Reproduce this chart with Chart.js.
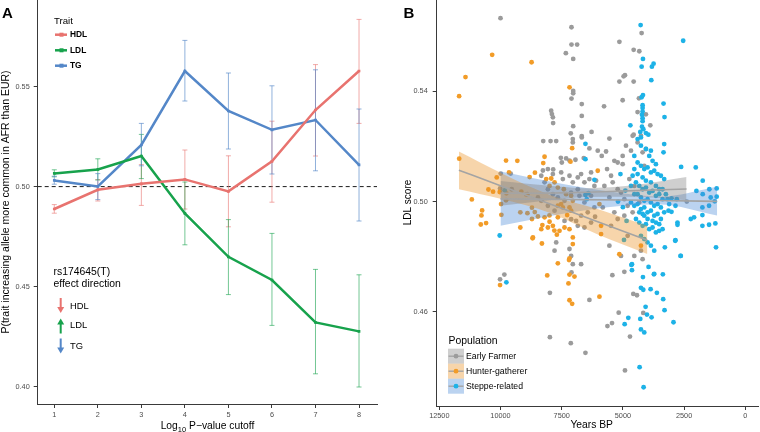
<!DOCTYPE html>
<html><head><meta charset="utf-8">
<script src="https://cdn.jsdelivr.net/npm/chart.js@4.4.1/dist/chart.umd.min.js"></script>
<style>
body{margin:0;background:#fff}
#wrap{position:relative;width:760px;height:432px;background:#fff}
canvas{position:absolute;top:0}
</style></head>
<body><div id="wrap">
<canvas id="chartA" width="380" height="432" style="left:0"></canvas>
<canvas id="chartB" width="380" height="432" style="left:380px"></canvas>
</div>
<script>
// ---------- Panel A data ----------
const cutoffs = [1, 2, 3, 4, 5, 6, 7, 8];
const hdlProp = [0.4888, 0.4984, 0.5014, 0.5036, 0.4976, 0.5126, 0.5383, 0.5578];
const hdlLow  = [0.4867, 0.4928, 0.4906, 0.4888, 0.4799, 0.4922, 0.5153, 0.5316];
const hdlHigh = [0.4910, 0.5035, 0.5110, 0.5183, 0.5154, 0.5327, 0.5610, 0.5836];
const ldlProp = [0.5066, 0.5086, 0.5153, 0.4866, 0.4649, 0.4533, 0.4321, 0.4276];
const ldlLow  = [0.5049, 0.5033, 0.5040, 0.4709, 0.4460, 0.4306, 0.4064, 0.3998];
const ldlHigh = [0.5084, 0.5139, 0.5261, 0.5023, 0.4835, 0.4766, 0.4586, 0.4559];
const tgProp  = [0.5031, 0.5001, 0.5208, 0.5578, 0.5378, 0.5284, 0.5333, 0.5109];
const tgLow   = [0.5012, 0.4935, 0.5104, 0.5428, 0.5188, 0.5063, 0.5079, 0.4828];
const tgHigh  = [0.5052, 0.5065, 0.5316, 0.5731, 0.5568, 0.5504, 0.5584, 0.5388];
const traitNames = ['HDL', 'LDL', 'TG'];
const rsDirections = ['down', 'up', 'down'];
const yTicksA = [0.40, 0.45, 0.50, 0.55];
const nullProp = 0.5;

// ---------- Panel B data: [years BP, LDL score] ----------
const earlyFarmer = [
[10000,.5666],[7100,.5633],[7100,.5570],[6870,.5570],[7330,.5539],[7030,.5518],[7030,.5402],[7030,.5393],[7100,.5374],[6680,.5354],[6680,.5311],[7930,.5330],[7900,.5318],[7860,.5306],[7850,.5285],[7030,.5274],[7130,.5248],[6280,.5253],[6680,.5238],
[4235,.5612],[5143,.5580],[4560,.5551],[4330,.5546],[4915,.5459],[4970,.5455],[5143,.5436],[4560,.5436],[4345,.5375],[5010,.5368],[5770,.5346],[4400,.5325],[4060,.5317],[3880,.5277],[4560,.5243],
[8254,.5220],[7955,.5220],[7725,.5220],[7046,.5227],[7046,.5215],[6680,.5233],[6368,.5193],[7535,.5159],[7318,.5157],[7494,.5142],[7182,.5149],[6938,.5152],[6598,.5158],[8064,.5118],[8267,.5113],[7847,.5117],[9584,.5102],[9991,.5102],[10018,.5048],[9543,.5045],[8905,.5027],[8200,.5070],[8064,.5045],[7860,.5027],[7657,.5015],[7385,.5003],[7114,.5033],[6843,.5045],[6775,.5021],[6571,.4997],[6300,.5021],[6164,.4979],[6436,.4961],[6707,.4949],[6910,.4930],[6843,.4912],[6571,.4906],[6300,.4924],[6137,.4945],[7114,.4936],[7385,.4930],[7792,.4967],[8064,.4985],[8335,.5003],[8471,.5015],[7725,.4852],[7792,.4822],[7046,.4773],[6707,.4773],[7114,.4803],[7182,.4828],[6571,.5070],[6368,.5082],[6843,.5088],[7182,.5094],[7521,.5106],[7860,.5100],[8335,.5094],[7453,.5082],[7046,.5070],[6707,.5100],[6300,.5106],[6164,.5057],[6096,.5076],
[6027,.5185],[5688,.5182],[5552,.5229],[4602,.5239],[4263,.5239],[5349,.5148],[5213,.5142],[5009,.5166],[5009,.5136],[5647,.5118],[5484,.5094],[5756,.5057],[5416,.5070],[5213,.5045],[5552,.5015],[5077,.5033],[4941,.5009],[4806,.4985],[5349,.4961],[5213,.4937],[4941,.4949],[5552,.4840],[5077,.4803],[4534,.4803],[4195,.4791],[4263,.4822],[4806,.4876],[2390,.5000],[5864,.5166],[4874,.5203],[4670,.5185],[4399,.5215],[4195,.5179],[4059,.5191],[4127,.5130],[4738,.5082],[4534,.5057],[4331,.4997],[4602,.4961],[5823,.4979],[5484,.4912],
[10018,.4718],[9842,.4735],[7100,.4743],[7982,.4669],[6368,.4643],[7982,.4508],[7128,.4486],[6530,.4451],[4915,.4387],[5632,.4548],[5444,.4559],[4711,.4510],[5171,.4597],[5430,.4733],[4941,.4745],[4575,.4665],[4426,.4660],[4168,.4596]
];
const hunterGatherer = [
[10340,.5533],[8730,.5506],[11430,.5452],[11690,.5383],[7180,.5415],
[11687,.5156],[9774,.5149],[9312,.5148],[8200,.5163],[8254,.5140],[7073,.5194],[7141,.5145],[8593,.5105],[8810,.5089],[9652,.5106],[10154,.5088],[10493,.5044],[10303,.5036],[10032,.5035],[9760,.5030],[11171,.5008],[9977,.4991],[9774,.5005],[9150,.5036],[8946,.5026],[10751,.4968],[10778,.4950],[10805,.4917],[10588,.4922],[9964,.4952],[9190,.4961],[9190,.4906],[8715,.4978],[8715,.4937],[8471,.4946],[8132,.5082],[7928,.5084],[7792,.5070],[7996,.5057],[7657,.5051],[7413,.5045],[7318,.5027],[7114,.5021],[7046,.5003],[7521,.4991],[7657,.4985],[7453,.4979],[7182,.4979],[7114,.4967],[7277,.4951],[7657,.4943],[8200,.4943],[7996,.4927],[7860,.4912],[7589,.4894],[7385,.4906],[7182,.4900],[7046,.4870],[7046,.4846],[7698,.4880],[8308,.4848],[8674,.4870],[8335,.4900],[8064,.4906],[7657,.4776],[7182,.4794],
[8900,.4958],[8600,.4962],[8000,.4950],[8290,.4915],[7800,.4895],[8690,.4867],[7200,.4788],
[6027,.5112],[5959,.4991],[5891,.4912],[5891,.4882],[5145,.4809],[4263,.4840],
[10018,.4697],[8091,.4732],[7182,.4735],[6978,.4728],[7223,.4703],[7182,.4642],[7073,.4629],[5958,.4655]
];
const steppeRelated = [
[4276,.5641],[2537,.5584],[4180,.5518],[4235,.5490],[3746,.5501],[3815,.5490],[3840,.5441],[4180,.5387],[4235,.5379],[3340,.5356],[4195,.5350],[4195,.5340],[4195,.5327],[4220,.5315],[4195,.5303],[3300,.5307],[4195,.5292],[4695,.5277],[4220,.5272],[4165,.5263],[4290,.5253],[4060,.5249],[3960,.5243],
[6530,.5210],[6530,.5154],[9828,.5041],[10032,.4877],[6530,.5024],[6476,.5009],[6164,.5079],[6408,.5031],
[3313,.5209],[3340,.5179],[2621,.5126],[2024,.5124],[1739,.5076],[1997,.5039],[1468,.5045],[1169,.5048],[1739,.5027],[1413,.5015],[1169,.5018],[1250,.5001],[1481,.4985],[1752,.4979],[1752,.4951],[2092,.4943],[2227,.4937],[2770,.4924],[2770,.4916],[2797,.5009],[3015,.5012],[3110,.4991],[2852,.4985],[3015,.4963],[3137,.4967],[1752,.4912],[1481,.4916],[1223,.4921],[2852,.4860],[3286,.4834],[2635,.4803],[1196,.4834],[3951,.4763],[4629,.4773],[4629,.4751],
[4534,.5166],[4399,.5142],[4263,.5130],[4127,.5118],[3992,.5124],[3856,.5106],[3720,.5112],[3584,.5100],[3449,.5094],[3313,.5082],[4602,.5094],[4466,.5070],[4331,.5057],[4195,.5045],[4059,.5051],[3924,.5033],[3788,.5039],[3652,.5021],[3517,.5027],[3381,.5009],[4670,.4997],[4534,.4985],[4399,.4991],[4263,.4973],[4127,.4979],[3992,.4961],[3856,.4967],[3720,.4949],[3584,.4955],[3449,.4937],[4466,.4937],[4331,.4924],[4195,.4912],[4059,.4918],[3924,.4900],[3788,.4906],[3652,.4888],[3517,.4894],[4263,.4876],[4127,.4864],[3992,.4852],[3856,.4840],[3720,.4822],[4534,.5118],[4399,.5100],[4195,.5088],[4059,.5076],[3856,.5070],[3652,.5057],[3517,.5045],[3381,.5045],[3245,.5027],[3177,.5009],[4399,.5027],[4263,.5015],[4127,.5003],[3992,.5009],[3856,.4997],[3720,.4985],[3584,.4991],[3449,.4979],[3313,.4961],[4127,.4949],[3992,.4937],[3788,.4930],[3652,.4924],[3517,.4918],[3381,.4900],[4331,.4961],[4195,.4955],[4534,.5027],[4670,.5057],[4059,.5191],[3924,.5166],[3788,.5148],[3652,.5136],[3856,.5185],[4263,.5203],[4399,.5227],[4263,.5233],
[5100,.5100],[4900,.5040],[5000,.4980],[4850,.4930],[5200,.5000],
[9760,.4707],[4181,.4726],[3720,.4738],[4263,.4687],[4168,.4680],[3612,.4669],[3354,.4646],[4073,.4618],[4019,.4590],[3829,.4580],[3299,.4606],[4779,.4578],[4290,.4574],[4928,.4555],[2933,.4562],[4263,.4536],[4127,.4525],[4317,.4399],[4154,.4326],
[4955,.4861],[4654,.4770],[2863,.4858],[2646,.4803],[3367,.4736],[3734,.4736],[3868,.4682]
];
const populations = ['Early Farmer', 'Hunter-gatherer', 'Steppe-related'];
// regression fits: years, fitted score, lower and upper 95% band
const efFitYears = [2400, 4500, 6500, 8000, 10000];
const efFitLine  = [0.5046, 0.5040, 0.5034, 0.5031, 0.5030];
const efFitLow   = [0.5005, 0.5018, 0.5017, 0.5005, 0.4985];
const efFitHigh  = [0.5089, 0.5060, 0.5049, 0.5058, 0.5075];
const hgFitYears = [4000, 6000, 8000, 10000, 11700];
const hgFitLine  = [0.4860, 0.4926, 0.4992, 0.5058, 0.5114];
const hgFitLow   = [0.4810, 0.4880, 0.4960, 0.5010, 0.5045];
const hgFitHigh  = [0.4912, 0.4972, 0.5025, 0.5105, 0.5182];
const stFitYears = [1150, 3500, 5000, 7500, 10000];
const stFitLine  = [0.5001, 0.5004, 0.5006, 0.5008, 0.5010];
const stFitLow   = [0.4950, 0.4990, 0.4985, 0.4955, 0.4912];
const stFitHigh  = [0.5054, 0.5018, 0.5030, 0.5065, 0.5109];
const yearTicks = [12500, 10000, 7500, 5000, 2500, 0];
const scoreTicks = [0.46, 0.50, 0.54];

// ---------- styles ----------
const FONT = '"Liberation Sans", Arial, Helvetica, sans-serif';
const traitColors = ['#E8736F', '#17A24C', '#5487C8'];
const traitBarColors = ['rgba(232,115,111,0.6)', 'rgba(23,162,76,0.6)', 'rgba(84,135,200,0.65)'];
const popColors = ['#9B9B9B', '#F29C28', '#1DB2E7'];
const popFills = ['rgba(128,128,128,0.38)', 'rgba(235,145,35,0.38)', 'rgba(75,140,215,0.38)'];
const fitLineColor = '#A4A4A4';
const axisColor = '#3a3a3a';
const tickColor = '#4d4d4d';

Chart.defaults.font.family = FONT;
Chart.defaults.animation = false;

function axisCommon() {
  return {
    grid: {display: true, drawOnChartArea: false, drawTicks: true, tickLength: 4, color: axisColor, lineWidth: 1},
    border: {display: true, color: axisColor, width: 1},
    ticks: {font: {size: 7.3, family: FONT}, color: tickColor, padding: 3, autoSkip: false, maxRotation: 0}
  };
}
function noPad(sc) { sc.paddingTop = 0; sc.paddingBottom = 0; sc.paddingLeft = 0; sc.paddingRight = 0; }

// ---------- Chart A ----------
const seriesA = [
  {name: traitNames[0], p: hdlProp, lo: hdlLow, hi: hdlHigh},
  {name: traitNames[1], p: ldlProp, lo: ldlLow, hi: ldlHigh},
  {name: traitNames[2], p: tgProp, lo: tgLow, hi: tgHigh}
];

function drawArrow(ctx, x, yTop, yBot, dir, color) {
  ctx.save();
  ctx.strokeStyle = color; ctx.fillStyle = color; ctx.lineWidth = 2;
  const head = 6;
  ctx.beginPath();
  if (dir === 'down') {
    ctx.moveTo(x, yTop); ctx.lineTo(x, yBot - head + 1); ctx.stroke();
    ctx.beginPath(); ctx.moveTo(x - 3.5, yBot - head); ctx.lineTo(x + 3.5, yBot - head); ctx.lineTo(x, yBot); ctx.closePath(); ctx.fill();
  } else {
    ctx.moveTo(x, yBot); ctx.lineTo(x, yTop + head - 1); ctx.stroke();
    ctx.beginPath(); ctx.moveTo(x - 3.5, yTop + head); ctx.lineTo(x + 3.5, yTop + head); ctx.lineTo(x, yTop); ctx.closePath(); ctx.fill();
  }
  ctx.restore();
}

const pluginA = {
  id: 'panelA',
  beforeDatasetsDraw(chart) {
    const {ctx, chartArea: a, scales: {x, y}} = chart;
    ctx.save();
    ctx.strokeStyle = '#000'; ctx.lineWidth = 0.9; ctx.setLineDash([4, 3]);
    const py = y.getPixelForValue(nullProp);
    ctx.beginPath(); ctx.moveTo(a.left, py); ctx.lineTo(a.right, py); ctx.stroke();
    ctx.restore();
    seriesA.forEach((s, k) => {
      ctx.save();
      ctx.strokeStyle = traitBarColors[k]; ctx.lineWidth = 1;
      cutoffs.forEach((c, i) => {
        const px = x.getPixelForValue(c);
        const p1 = y.getPixelForValue(s.lo[i]), p2 = y.getPixelForValue(s.hi[i]);
        ctx.beginPath();
        ctx.moveTo(px, p1); ctx.lineTo(px, p2);
        ctx.moveTo(px - 2.5, p1); ctx.lineTo(px + 2.5, p1);
        ctx.moveTo(px - 2.5, p2); ctx.lineTo(px + 2.5, p2);
        ctx.stroke();
      });
      ctx.restore();
    });
  },
  afterDraw(chart) {
    const ctx = chart.ctx;
    ctx.save();
    ctx.fillStyle = '#000';
    ctx.font = 'bold 15px ' + FONT; ctx.textBaseline = 'alphabetic'; ctx.textAlign = 'left';
    ctx.fillText('A', 2, 18);
    ctx.save();
    ctx.translate(6, 202); ctx.rotate(-Math.PI / 2);
    ctx.font = '10.5px ' + FONT; ctx.textAlign = 'center'; ctx.textBaseline = 'middle';
    ctx.fillText('P(trait increasing allele more common in AFR than EUR)', 0, 0);
    ctx.restore();
    const f1 = '10.3px ' + FONT, f2 = '7.5px ' + FONT;
    ctx.font = f1; const wLog = ctx.measureText('Log').width; const wRest = ctx.measureText(' P\u2212value cutoff').width;
    ctx.font = f2; const wSub = ctx.measureText('10').width;
    let sx = 207.5 - (wLog + wSub + wRest) / 2;
    ctx.textBaseline = 'alphabetic';
    ctx.font = f1; ctx.fillText('Log', sx, 429);
    ctx.font = f2; ctx.fillText('10', sx + wLog, 431.5);
    ctx.font = f1; ctx.fillText(' P\u2212value cutoff', sx + wLog + wSub, 429);
    ctx.font = '9.6px ' + FONT; ctx.textBaseline = 'middle';
    ctx.fillText('Trait', 54, 21);
    const keyY = [34.7, 50.3, 65.7];
    traitNames.forEach((n, k) => {
      ctx.strokeStyle = traitColors[k]; ctx.lineWidth = 2.5;
      ctx.beginPath(); ctx.moveTo(55, keyY[k]); ctx.lineTo(67, keyY[k]); ctx.stroke();
      ctx.fillStyle = traitColors[k]; ctx.fillRect(59.5, keyY[k] - 2, 4, 4);
      ctx.fillStyle = '#000'; ctx.font = 'bold 8.4px ' + FONT;
      ctx.fillText(n, 70, keyY[k]);
    });
    ctx.font = '10.4px ' + FONT; ctx.fillStyle = '#000';
    ctx.fillText('rs174645(T)', 53.5, 271.7);
    ctx.fillText('effect direction', 53.5, 284);
    const arrowTop = [298, 318.5, 338.5];
    const labelY = [306.5, 325.8, 346];
    traitNames.forEach((n, k) => {
      drawArrow(ctx, 60.7, arrowTop[k], arrowTop[k] + 15, rsDirections[k], traitColors[k]);
      ctx.fillStyle = '#000'; ctx.font = '9.4px ' + FONT;
      ctx.fillText(n, 70, labelY[k]);
    });
    ctx.restore();
  }
};

const axA_x = axisCommon();
const axA_y = axisCommon();
new Chart(document.getElementById('chartA'), {
  type: 'line',
  data: {
    datasets: seriesA.map((s, k) => ({
      label: s.name,
      data: cutoffs.map((c, i) => ({x: c, y: s.p[i]})),
      borderColor: traitColors[k], backgroundColor: traitColors[k],
      borderWidth: 2.5, pointRadius: 1.9, pointStyle: 'rect', pointBorderWidth: 0,
      pointBackgroundColor: traitColors[k], tension: 0, fill: false
    }))
  },
  options: {
    responsive: false, animation: false, events: [],
    layout: {autoPadding: false, padding: {top: 0, right: 3, bottom: 0, left: 0}},
    plugins: {legend: {display: false}, tooltip: {enabled: false}},
    scales: {
      x: Object.assign(axA_x, {
        type: 'linear', min: 0.619, max: 8.413,
        afterBuildTicks: sc => { sc.ticks = cutoffs.map(v => ({value: v})); },
        afterFit: sc => { sc.height = 28; noPad(sc); },
        ticks: Object.assign(axA_x.ticks, {callback: v => String(v)})
      }),
      y: Object.assign(axA_y, {
        min: 0.3913, max: 0.5933,
        afterBuildTicks: sc => { sc.ticks = yTicksA.map(v => ({value: v})); },
        afterFit: sc => { sc.width = 37.7; noPad(sc); },
        ticks: Object.assign(axA_y.ticks, {padding: 4, callback: v => v.toFixed(2)})
      })
    }
  },
  plugins: [pluginA]
});

// ---------- Chart B ----------
const fits = [
  {years: efFitYears, line: efFitLine, lo: efFitLow, hi: efFitHigh},
  {years: hgFitYears, line: hgFitLine, lo: hgFitLow, hi: hgFitHigh},
  {years: stFitYears, line: stFitLine, lo: stFitLow, hi: stFitHigh}
];
const popData = [earlyFarmer, hunterGatherer, steppeRelated];
const dsB = [];
fits.forEach((f, k) => {
  dsB.push({data: f.years.map((yr, i) => ({x: yr, y: f.line[i]})), borderColor: fitLineColor, borderWidth: 1.6,
    pointRadius: 0, showLine: true, fill: false, order: 0, cubicInterpolationMode: 'monotone'});
});
fits.forEach((f, k) => {
  dsB.push({data: f.years.map((yr, i) => ({x: yr, y: f.hi[i]})), borderWidth: 0, borderColor: 'rgba(0,0,0,0)',
    backgroundColor: popFills[k], pointRadius: 0, showLine: true, fill: '+1', order: 1, cubicInterpolationMode: 'monotone'});
  dsB.push({data: f.years.map((yr, i) => ({x: yr, y: f.lo[i]})), borderWidth: 0, borderColor: 'rgba(0,0,0,0)',
    pointRadius: 0, showLine: true, fill: false, order: 1, cubicInterpolationMode: 'monotone'});
});
popData.forEach((pts, k) => {
  dsB.push({data: pts.map(p => ({x: p[0], y: p[1]})), showLine: false, pointRadius: 2.4, pointBorderWidth: 0,
    pointBackgroundColor: popColors[k], backgroundColor: popColors[k], order: 5 - k});
});

const pluginB = {
  id: 'panelB',
  afterDraw(chart) {
    const ctx = chart.ctx;
    ctx.save();
    ctx.fillStyle = '#000';
    ctx.font = 'bold 15px ' + FONT; ctx.textAlign = 'left'; ctx.textBaseline = 'alphabetic';
    ctx.fillText('B', 23.5, 17.5);
    ctx.save();
    ctx.translate(28.3, 202.5); ctx.rotate(-Math.PI / 2);
    ctx.font = '10px ' + FONT; ctx.textAlign = 'center'; ctx.textBaseline = 'middle';
    ctx.fillText('LDL score', 0, 0);
    ctx.restore();
    ctx.font = '10.3px ' + FONT; ctx.textAlign = 'center'; ctx.textBaseline = 'middle';
    ctx.fillText('Years BP', 211.7, 425);
    ctx.textAlign = 'left';
    ctx.font = '10.4px ' + FONT;
    ctx.fillText('Population', 68.5, 341);
    const top = [348.7, 363.7, 378.7];
    populations.forEach((n, k) => {
      ctx.fillStyle = popFills[k];
      ctx.fillRect(68, top[k], 16, 15);
      const cy = top[k] + 7.5;
      ctx.strokeStyle = fitLineColor; ctx.lineWidth = 1.4;
      ctx.beginPath(); ctx.moveTo(68.5, cy); ctx.lineTo(83.5, cy); ctx.stroke();
      ctx.fillStyle = popColors[k];
      ctx.beginPath(); ctx.arc(76, cy, 2.4, 0, Math.PI * 2); ctx.fill();
      ctx.fillStyle = '#000'; ctx.font = '8.7px ' + FONT;
      ctx.fillText(n, 86, cy);
    });
    ctx.restore();
  }
};

const axB_x = axisCommon();
const axB_y = axisCommon();
new Chart(document.getElementById('chartB'), {
  type: 'line',
  data: {datasets: dsB},
  options: {
    responsive: false, animation: false, events: [],
    layout: {autoPadding: false, padding: {top: 0, right: 2, bottom: 0, left: 0}},
    plugins: {legend: {display: false}, tooltip: {enabled: false}, filler: {propagate: false}},
    scales: {
      x: Object.assign(axB_x, {
        type: 'linear', reverse: true, min: -519, max: 12606,
        afterBuildTicks: sc => { sc.ticks = yearTicks.map(v => ({value: v})); },
        afterFit: sc => { sc.height = 26; noPad(sc); },
        ticks: Object.assign(axB_x.ticks, {padding: 2, callback: v => String(v)})
      }),
      y: Object.assign(axB_y, {
        min: 0.4258, max: 0.5732,
        afterBuildTicks: sc => { sc.ticks = scoreTicks.map(v => ({value: v})); },
        afterFit: sc => { sc.width = 56.7; noPad(sc); },
        ticks: Object.assign(axB_y.ticks, {padding: 5, callback: v => v.toFixed(2)})
      })
    }
  },
  plugins: [pluginB]
});
</script>
</body></html>
